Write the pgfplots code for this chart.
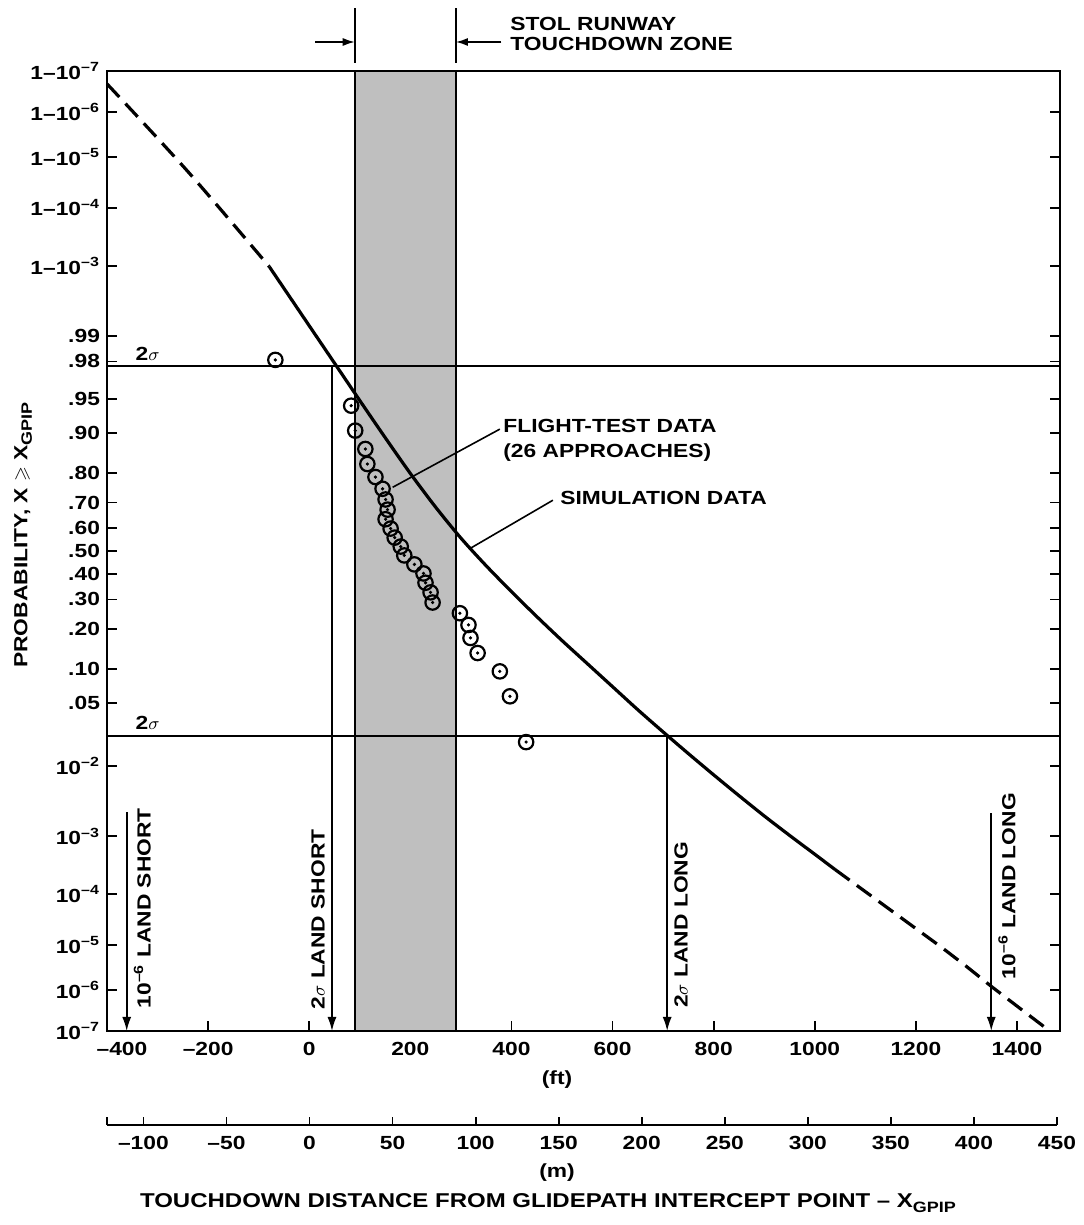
\documentclass[border=0pt]{standalone}
\usepackage{amssymb}
\usepackage{fontspec}
\setmainfont{Liberation Sans}[FakeStretch=1.2]
\usepackage{pgfplots}
\usepackage{pgfplotstable}
\pgfplotsset{compat=1.18}
\usetikzlibrary{arrows.meta}

\newcommand{\lab}{\fontsize{9.5}{11}\selectfont\bfseries}
\newcommand{\tlab}{\fontsize{10}{12}\selectfont\bfseries}
\newcommand{\sub}[1]{\raisebox{-0.45ex}{\fontsize{7.5}{8}\selectfont\bfseries #1}}

\pgfplotstableread{
x z
-67 2.070
83 1.574
91 1.304
111 1.105
115 0.942
131 0.801
145 0.674
151 0.558
155 0.448
151 0.344
161 0.243
169 0.145
181 0.048
188 -0.048
208 -0.145
226 -0.243
230 -0.344
240 -0.448
244 -0.558
298 -0.674
315 -0.801
319 -0.942
333 -1.105
377 -1.304
397 -1.574
429 -2.070
}\flight

\pgfplotstableread{
x z
-400 5.06
-240 4.11
-79 3.08
}\simleft

\pgfplotstableread{
x z
-79 3.08
0 2.44
50 2.035
100 1.63
150 1.23
200 0.84
250 0.475
300 0.14
350 -0.16
400 -0.44
450 -0.71
500 -0.97
550 -1.22
600 -1.47
650 -1.72
700 -1.96
750 -2.195
800 -2.425
850 -2.65
900 -2.87
950 -3.08
1000 -3.285
1040 -3.45
}\simmid

\pgfplotstableread{
x z
1040 -3.45
1100 -3.69
1150 -3.89
1200 -4.09
1250 -4.29
1300 -4.50
1350 -4.72
1400 -4.93
1460 -5.18
}\simright

\begin{document}
\begin{tikzpicture}[x=1pt,y=1pt]
\path[use as bounding box] (-53.5,-97) rectangle (488,515.5);
\pgfplotsset{every tick label/.append style={font=\lab}}
\begin{axis}[
  name=main, at={(0pt,0pt)}, anchor=south west, scale only axis,
  width=476.5pt, height=480pt,
  xmin=-400, xmax=1485, ymin=-5.1993, ymax=5.1993,
  clip=false,
  axis line style={line width=0.9pt},
  tick style={line width=0.9pt, black},
  major tick length=5pt,
  tick align=inside,
  xtick pos=bottom,
  xtick={-200,0,200,400,600,800,1000,1200,1400},
  xticklabels={–200,0,200,400,600,800,1000,1200,1400},
  extra x ticks={-400}, extra x tick labels={–400},
  extra x tick style={xticklabel style={xshift=7.5pt}},
  xticklabel style={yshift=-2pt},
  ytick={-5.1993,-4.7534,-4.2649,-3.7190,-3.0902,-2.3263,-1.6449,-1.2816,-0.8416,-0.5244,-0.2533,0,0.2533,0.5244,0.8416,1.2816,1.6449,2.0537,2.3263,3.0902,3.7190,4.2649,4.7534,5.1993},
  yticklabels={10\textsuperscript{–7},10\textsuperscript{–6},10\textsuperscript{–5},10\textsuperscript{–4},10\textsuperscript{–3},10\textsuperscript{–2},.05,.10,.20,.30,.40,.50,.60,.70,.80,.90,.95,.98,.99,1–10\textsuperscript{–3},1–10\textsuperscript{–4},1–10\textsuperscript{–5},1–10\textsuperscript{–6},1–10\textsuperscript{–7}},
]
% touchdown zone
\addplot[draw=black, line width=0.9pt, fill=black!25] coordinates {(90,-5.1993) (290,-5.1993) (290,5.1993) (90,5.1993)} -- cycle;
% 2 sigma lines
\addplot[line width=0.9pt] coordinates {(-400,2) (1485,2)};
\addplot[line width=0.9pt] coordinates {(-400,-2) (1485,-2)};
% simulation curve
\addplot[line width=1.6pt, dash pattern=on 9pt off 4.5pt, smooth] table[x=x,y=z] {\simleft};
\addplot[line width=1.6pt, smooth, tension=0.5] table[x=x,y=z] {\simmid};
\addplot[line width=1.6pt, dash pattern=on 9pt off 4.5pt] table[x=x,y=z] {\simright};
% flight test data
\addplot[only marks, mark=o, mark size=3.6pt, mark options={line width=1.1pt, fill=none}] table[x=x,y=z] {\flight};
\addplot[only marks, mark=*, mark size=0.6pt] table[x=x,y=z] {\flight};

% leaders
\draw[line width=0.8pt] (axis cs:377,1.32) -- (axis cs:165,0.69);
\draw[line width=0.8pt] (axis cs:482,0.55) -- (axis cs:319,0.03);

% 2 sigma labels
\node[anchor=base west, font=\lab, inner sep=0pt] at ([yshift=3pt]axis cs:-344,2) {2$\sigma$};
\node[anchor=base west, font=\lab, inner sep=0pt] at ([yshift=3pt]axis cs:-344,-2) {2$\sigma$};

% vertical arrows
\draw[line width=0.8pt, -{Latex[length=7pt,width=4.5pt]}] (axis cs:45,2) -- (axis cs:45,-5.1993);
\draw[line width=0.8pt, -{Latex[length=7pt,width=4.5pt]}] (axis cs:-361,-2.83) -- (axis cs:-361,-5.1993);
\draw[line width=0.8pt, -{Latex[length=7pt,width=4.5pt]}] (axis cs:708,-2) -- (axis cs:708,-5.1993);
\draw[line width=0.8pt, -{Latex[length=7pt,width=4.5pt]}] (axis cs:1349,-2.84) -- (axis cs:1349,-5.1993);
\node[rotate=90, anchor=south, font=\lab] at (axis cs:45,-3.99) {2$\sigma$ LAND SHORT};
\node[rotate=90, anchor=north, font=\lab] at (axis cs:-361,-3.87) {10\textsuperscript{–6} LAND SHORT};
\node[rotate=90, anchor=north, font=\lab] at (axis cs:708,-4.05) {2$\sigma$ LAND LONG};
\node[rotate=90, anchor=north, font=\lab] at (axis cs:1349,-3.63) {10\textsuperscript{–6} LAND LONG};

% top touchdown zone markers
\draw[line width=0.8pt] ([yshift=4pt]axis cs:90,5.1993) -- ([yshift=31.5pt]axis cs:90,5.1993);
\draw[line width=0.8pt] ([yshift=4pt]axis cs:290,5.1993) -- ([yshift=31.5pt]axis cs:290,5.1993);
\draw[line width=0.8pt, -{Latex[length=6pt,width=4pt]}] ([yshift=14.5pt]axis cs:12,5.1993) -- ([yshift=14.5pt]axis cs:90,5.1993);
\draw[line width=0.8pt, -{Latex[length=6pt,width=4pt]}] ([yshift=14.5pt]axis cs:380,5.1993) -- ([yshift=14.5pt]axis cs:290,5.1993);
\end{axis}

\begin{axis}[
  name=maxis, at={(0pt,-47pt)}, anchor=south west, scale only axis,
  width=475pt, height=5pt,
  xmin=-121.92, xmax=450, ymin=0, ymax=1,
  axis x line*=bottom, hide y axis,
  axis line style={line width=0.9pt},
  tick style={line width=0.9pt, black},
  major tick length=4pt, tick align=inside,
  xtick={-100,-50,0,50,100,150,200,250,300,350,400,450},
  xticklabels={–100,–50,0,50,100,150,200,250,300,350,400,450},
  xticklabel style={yshift=-2pt},
  extra x ticks={-121.92}, extra x tick labels={},
]
\addplot[draw=none] coordinates {(0,0.5)};
\end{axis}

% texts
\node[anchor=base west, font=\lab, inner sep=0pt] at (201.5,500) {STOL RUNWAY};
\node[anchor=base west, font=\lab, inner sep=0pt] at (201.5,490) {TOUCHDOWN ZONE};
\node[anchor=west, font=\lab, inner sep=0pt] at (198,302.5) {FLIGHT-TEST DATA};
\node[anchor=west, font=\lab, inner sep=0pt] at (198,289) {(26 APPROACHES)};
\node[anchor=west, font=\lab, inner sep=0pt] at (226.5,266.5) {SIMULATION DATA};
\node[rotate=90, font=\lab] at (-42,248) {PROBABILITY, X $\geqslant$ X\sub{GPIP}};
\node[font=\lab] at (225,-24.5) {(ft)};
\node[font=\lab] at (225,-71) {(m)};
\node[font=\tlab] at (220.5,-86) {TOUCHDOWN DISTANCE FROM GLIDEPATH INTERCEPT POINT – X\sub{GPIP}};
\end{tikzpicture}
\end{document}
